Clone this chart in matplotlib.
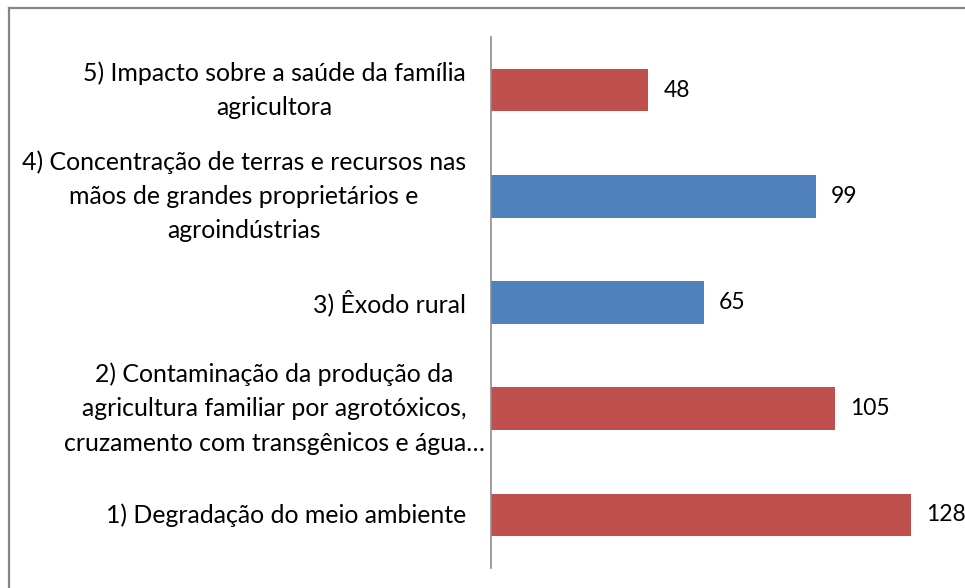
import matplotlib
matplotlib.use("Agg")
import matplotlib.pyplot as plt
from matplotlib.lines import Line2D
from matplotlib.transforms import ScaledTranslation

categories = [
    "1) Degradação do meio ambiente",
    "2) Contaminação da produção da\nagricultura familiar por agrotóxicos,\ncruzamento com transgênicos e água…",
    "3) Êxodo rural",
    "4) Concentração de terras e recursos nas\nmãos de grandes proprietários e\nagroindústrias",
    "5) Impacto sobre a saúde da família\nagricultora",
]
values = [128, 105, 65, 99, 48]
bar_colors = ["#C0504D", "#C0504D", "#4F81BD", "#4F81BD", "#C0504D"]

plt.rcParams['font.family'] = ['Lato', 'DejaVu Sans']

W, H = 965, 588
DPI = 100
fig = plt.figure(figsize=(W / DPI, H / DPI), dpi=DPI)
ax = fig.add_axes([491 / W, 1 - 568 / H, (950.1 - 491) / W, (568 - 37) / H])

y = list(range(len(categories)))
ax.barh(y, values, height=0.4, color=bar_colors)
ax.set_xlim(0, 140)
ax.set_ylim(-0.5, len(categories) - 0.5)

# value labels
for yi, v in zip(y, values):
    ax.annotate(str(v), (v, yi), xytext=(15 * 72 / DPI, 0), textcoords="offset points",
                va="center", ha="left", fontsize=16.5, color="black")

# category labels (right-aligned block, lines centred)
for i, (yi, lab) in enumerate(zip(y, categories)):
    shift_px = -25 + (19 if i == 1 else 0)
    tr = ax.transData + ScaledTranslation(shift_px / DPI, 0, fig.dpi_scale_trans)
    ax.text(0, yi, lab, transform=tr, ha="right", va="center",
            multialignment="center", fontsize=17.9, linespacing=1.6, color="black")

ax.set_yticks([])
ax.set_xticks([])
for s in ["top", "right", "bottom"]:
    ax.spines[s].set_visible(False)
ax.spines["left"].set_color("#8C8C8C")
ax.spines["left"].set_linewidth(1.2)

# outer chart frame (left and top edges)
fig.add_artist(Line2D([8.5 / W, 8.5 / W], [0, 1 - 8 / H], transform=fig.transFigure,
                      color="#868686", lw=1.6))
fig.add_artist(Line2D([8.5 / W, 1], [1 - 8 / H, 1 - 8 / H], transform=fig.transFigure,
                      color="#868686", lw=1.6))

fig.savefig("out.png", dpi=DPI)
